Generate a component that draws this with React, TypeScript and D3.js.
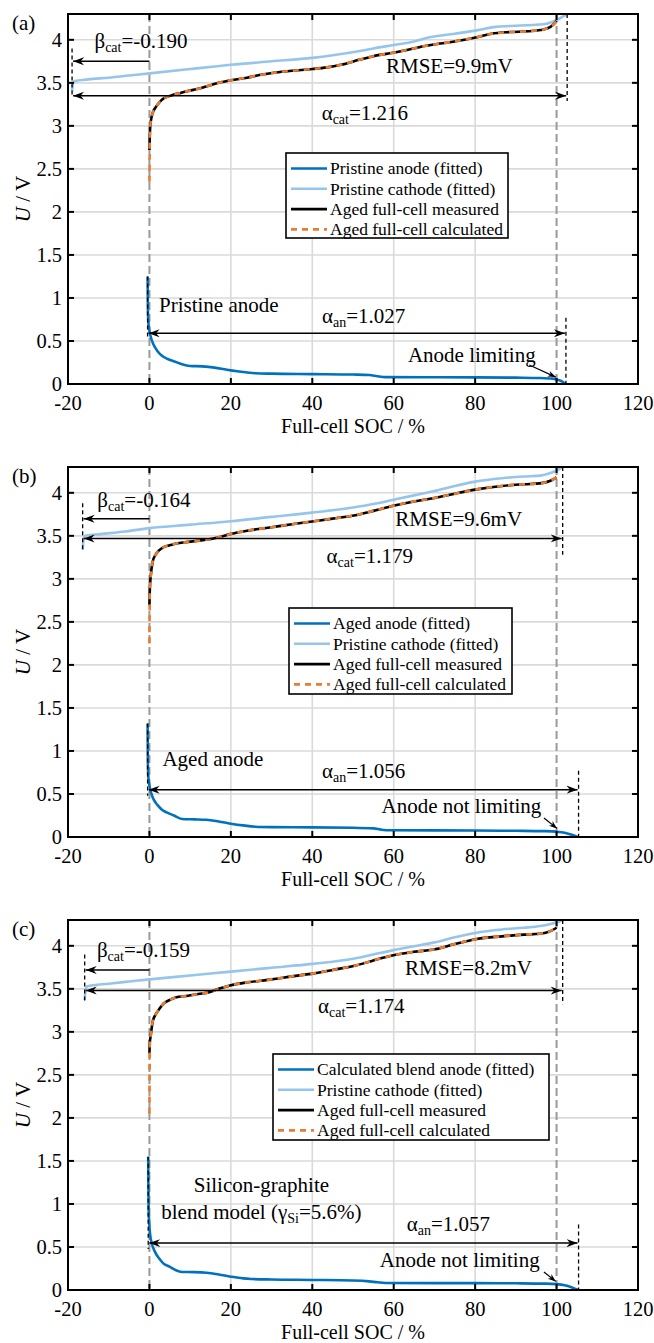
import React from 'react';
import * as d3 from 'd3';

const W = 654;
const H = 1343;

const xTicks = [-20, 0, 20, 40, 60, 80, 100, 120];
const yTicks = [0, 0.5, 1, 1.5, 2, 2.5, 3, 3.5, 4];
const yTickLabels = ['0', '0.5', '1', '1.5', '2', '2.5', '3', '3.5', '4'];

// ---- panel (a) ----
const anodeA = [[-0.45, 1.25], [-0.4, 0.95], [-0.3, 0.75], [0, 0.62], [0.5, 0.52], [1, 0.46], [2, 0.38], [3, 0.33], [4.5, 0.29], [6, 0.265], [8, 0.23], [10, 0.21], [13, 0.205], [16, 0.19], [19, 0.165], [22, 0.145], [26, 0.125], [30, 0.12], [40, 0.115], [50, 0.11], [54, 0.105], [56, 0.09], [58, 0.08], [70, 0.078], [80, 0.077], [90, 0.074], [96, 0.07], [99, 0.062], [100.5, 0.045], [101.5, 0.025], [102.2, 0.0]];
const cathodeA = [[-19, 3.40], [-18.8, 3.48], [-18.4, 3.52], [-15, 3.54], [-10, 3.56], [-5, 3.585], [0, 3.61], [10, 3.66], [20, 3.71], [30, 3.75], [40, 3.79], [45, 3.82], [51.7, 3.87], [55, 3.9], [60, 3.94], [65, 3.98], [68, 4.02], [75, 4.07], [80.4, 4.11], [85, 4.15], [88.6, 4.16], [93, 4.17], [96.8, 4.18], [99, 4.21], [100.5, 4.24], [101.5, 4.27], [102.6, 4.3]];
const measA = [[0, 2.72], [0.1, 2.9], [0.2, 3.0], [0.4, 3.07], [0.8, 3.15], [1.6, 3.22], [2.4, 3.27], [3.2, 3.31], [4.5, 3.34], [5.7, 3.36], [7.5, 3.38], [9, 3.40], [12, 3.43], [14.8, 3.47], [17, 3.50], [20, 3.53], [24, 3.56], [27, 3.59], [31, 3.62], [35, 3.64], [40, 3.66], [43.6, 3.68], [47, 3.71], [51.7, 3.77], [55, 3.81], [59.9, 3.85], [64, 3.89], [68, 3.93], [72, 3.96], [76, 3.99], [80.4, 4.03], [84, 4.07], [88.6, 4.09], [93, 4.10], [96.8, 4.12], [98.5, 4.15], [99.5, 4.19], [100, 4.22]];
const calcA = [[0, 2.35], [0.05, 2.62], ...measA.slice(1)];

// ---- panel (b) ----
const anodeB = [[-0.45, 1.32], [-0.4, 0.95], [-0.3, 0.72], [0, 0.6], [0.5, 0.5], [1, 0.44], [2, 0.37], [3, 0.32], [4.5, 0.28], [6, 0.25], [8, 0.21], [11, 0.205], [14, 0.2], [17, 0.18], [20, 0.155], [23, 0.135], [26, 0.12], [30, 0.115], [40, 0.112], [50, 0.108], [55, 0.1], [57, 0.085], [59, 0.078], [70, 0.077], [80, 0.075], [90, 0.072], [97, 0.068], [100, 0.062], [102, 0.05], [103.5, 0.03], [104.6, 0.012], [105.2, 0.0]];
const cathodeB = [[-16.4, 3.34], [-16.2, 3.45], [-15.8, 3.50], [-12, 3.52], [-6, 3.55], [0, 3.59], [10, 3.63], [20, 3.67], [30, 3.72], [40, 3.77], [50, 3.83], [55, 3.87], [60, 3.92], [65, 3.97], [70, 4.02], [75, 4.08], [80, 4.13], [86.6, 4.17], [92, 4.19], [96, 4.20], [98.5, 4.23], [100.5, 4.27], [101.5, 4.3]];
const measB = [[0, 2.7], [0.1, 2.88], [0.3, 3.02], [0.8, 3.2], [1.5, 3.28], [2.35, 3.33], [3.5, 3.37], [5, 3.39], [6.5, 3.41], [9.5, 3.43], [13, 3.45], [15.7, 3.47], [17.5, 3.49], [19.8, 3.52], [24, 3.56], [30, 3.60], [35, 3.635], [40.4, 3.67], [45, 3.70], [50.6, 3.74], [55, 3.79], [59.9, 3.85], [65, 3.90], [70, 3.94], [75, 3.99], [80.4, 4.04], [86.6, 4.08], [92, 4.10], [95.9, 4.11], [98.5, 4.14], [100, 4.18]];
const calcB = [[0, 2.25], [0.05, 2.6], ...measB.slice(1)];

// ---- panel (c) ----
const anodeC = [[-0.3, 1.55], [-0.25, 1.2], [-0.15, 0.87], [0.3, 0.6], [1.4, 0.44], [2.5, 0.36], [3.4, 0.31], [5, 0.27], [6.5, 0.23], [8, 0.21], [11, 0.208], [14, 0.2], [17, 0.18], [20, 0.155], [23, 0.135], [25, 0.128], [30, 0.122], [40, 0.117], [50, 0.11], [54, 0.1], [56, 0.09], [58, 0.082], [70, 0.08], [80, 0.08], [90, 0.078], [97, 0.074], [100, 0.068], [102, 0.055], [103.5, 0.035], [104.7, 0.012], [105.4, 0.0]];
const cathodeC = [[-15.9, 3.37], [-15.7, 3.48], [-15.3, 3.53], [-10, 3.56], [-5, 3.585], [0, 3.61], [10, 3.655], [20, 3.70], [30, 3.745], [40, 3.79], [50, 3.85], [55, 3.9], [60, 3.95], [65, 3.995], [70, 4.04], [75, 4.10], [80, 4.15], [86.6, 4.19], [92, 4.21], [96, 4.23], [99, 4.26], [100.5, 4.28], [101.5, 4.3]];
const measC = [[0, 2.75], [0.1, 2.88], [0.3, 2.95], [0.8, 3.12], [1.5, 3.2], [2.35, 3.26], [3.5, 3.33], [5, 3.37], [6.4, 3.40], [9.5, 3.42], [12, 3.44], [14.7, 3.46], [17, 3.5], [19.8, 3.54], [24, 3.575], [30.1, 3.61], [35, 3.645], [40.4, 3.68], [45, 3.72], [50.6, 3.77], [55, 3.83], [59.9, 3.89], [65, 3.93], [70.1, 3.96], [75, 4.02], [80.4, 4.08], [86.6, 4.11], [92, 4.13], [95.9, 4.14], [98.5, 4.17], [100, 4.21]];
const calcC = [[0, 2.05], [0.05, 2.55], ...measC.slice(1)];

const legendA = ['Pristine anode (fitted)', 'Pristine cathode (fitted)', 'Aged full-cell measured', 'Aged full-cell calculated'];
const legendB = ['Aged anode (fitted)', 'Pristine cathode (fitted)', 'Aged full-cell measured', 'Aged full-cell calculated'];
const legendC = ['Calculated blend anode (fitted)', 'Pristine cathode (fitted)', 'Aged full-cell measured', 'Aged full-cell calculated'];

const panels = [
  {
    label: '(a)', top: 14,
    anode: anodeA, cathode: cathodeA, meas: measA, calc: calcA, legend: legendA,
    legendBox: { x: 218, y: 139, w: 222, h: 85 },
    beta: -19.0, betaY: 3.75, betaText: { x: -13.5, y: 3.90, v: '=-0.190' }, betaDash: [3.90, 3.34],
    catEnd: 102.6, catY: 3.35, catText: { x: 42.3, y: 3.07, v: '=1.216' }, catDashBottom: 3.29,
    rmse: { x: 58.1, y: 3.61, v: 'RMSE=9.9mV' },
    anStart: -0.45, anTop: 1.25,
    anLabel: [{ t: 'Pristine anode', x: 2.35, y: 0.84 }], anLabelAnchor: 'start',
    anEnd: 102.3, anY: 0.59, anText: { x: 42.4, y: 0.71, v: '=1.027' }, anDashTop: 0.77,
    lim: { t: 'Anode limiting', x: 63.5, y: 0.26, ax0: 93.3, ay0: 0.22, ax1: 99.8, ay1: 0.08 },
  },
  {
    label: '(b)', top: 467,
    anode: anodeB, cathode: cathodeB, meas: measB, calc: calcB, legend: legendB,
    legendBox: { x: 221, y: 141, w: 223, h: 86 },
    beta: -16.4, betaY: 3.70, betaText: { x: -12.8, y: 3.84, v: '=-0.164' }, betaDash: [3.88, 3.34],
    catEnd: 101.5, catY: 3.47, catText: { x: 43.5, y: 3.19, v: '=1.179' }, catDashBottom: 3.28,
    rmse: { x: 60.4, y: 3.62, v: 'RMSE=9.6mV' },
    anStart: -0.45, anTop: 1.32,
    anLabel: [{ t: 'Aged anode', x: 3.2, y: 0.82 }], anLabelAnchor: 'start',
    anEnd: 105.4, anY: 0.55, anText: { x: 42.4, y: 0.69, v: '=1.056' }, anDashTop: 0.77,
    lim: { t: 'Anode not limiting', x: 57.0, y: 0.28, ax0: 96.9, ay0: 0.22, ax1: 100.1, ay1: 0.10 },
  },
  {
    label: '(c)', top: 920,
    anode: anodeC, cathode: cathodeC, meas: measC, calc: calcC, legend: legendC,
    legendBox: { x: 205, y: 134, w: 276, h: 86 },
    beta: -15.9, betaY: 3.72, betaText: { x: -12.9, y: 3.87, v: '=-0.159' }, betaDash: [3.90, 3.35],
    catEnd: 101.5, catY: 3.48, catText: { x: 41.4, y: 3.22, v: '=1.174' }, catDashBottom: 3.32,
    rmse: { x: 62.8, y: 3.66, v: 'RMSE=8.2mV' },
    anStart: -0.3, anTop: 1.55,
    anLabel: [{ t: 'Silicon-graphite', x: 27.5, y: 1.14 }, { t: 'blend', x: 27.5, y: 0.83 }], anLabelAnchor: 'middle',
    anEnd: 105.4, anY: 0.545, anText: { x: 63.2, y: 0.69, v: '=1.057' }, anDashTop: 0.76,
    lim: { t: 'Anode not limiting', x: 56.6, y: 0.265, ax0: 96.9, ay0: 0.21, ax1: 99.8, ay1: 0.10 },
  },
];

const LEFT = 68;
const RIGHT = 638;
const PH = 370;
const FONT = "'Liberation Serif', 'Times New Roman', serif";
const C_AN = '#0072BD';
const C_CAT = '#96C5EB';
const C_OR = '#EA7B30';
const FS = 21;
const FT = 20.5;
const FX = 20;
const SUB = 14;

function Panel({ p, idx }: { p: any; idx: number }) {
  const top = p.top;
  const bottom = top + PH;
  const x = d3.scaleLinear().domain([-20, 120]).range([LEFT, RIGHT]);
  const y = d3.scaleLinear().domain([0, 4.3]).range([bottom, top]);
  const line = d3.line<number[]>().x((d) => x(d[0])).y((d) => y(d[1])).curve(d3.curveMonotoneX);
  const clipId = `clip${idx}`;
  const lb = p.legendBox;
  const legendColors = [C_AN, C_CAT, '#000', C_OR];

  return (
    <g fontFamily={FONT}>
      <defs>
        <clipPath id={clipId}>
          <rect x={LEFT} y={top} width={RIGHT - LEFT} height={PH} />
        </clipPath>
      </defs>
      {/* grid */}
      {xTicks.filter((t) => t !== 0 && t !== 100).map((t) => (
        <line key={'gx' + t} x1={x(t)} x2={x(t)} y1={top} y2={bottom} stroke="#dadada" strokeWidth={1.6} />
      ))}
      {yTicks.map((t) => (
        <line key={'gy' + t} x1={LEFT} x2={RIGHT} y1={y(t)} y2={y(t)} stroke="#dadada" strokeWidth={1.6} />
      ))}
      {[0, 100].map((t) => (
        <line key={'gd' + t} x1={x(t)} x2={x(t)} y1={top} y2={bottom} stroke="#9a9a9a" strokeWidth={2} strokeDasharray="8 4" />
      ))}

      {/* curves */}
      <g clipPath={`url(#${clipId})`}>
        <path d={line(p.anode) || ''} fill="none" stroke={C_AN} strokeWidth={2.6} />
        <path d={line(p.cathode) || ''} fill="none" stroke={C_CAT} strokeWidth={2.6} />
        <path d={line(p.meas) || ''} fill="none" stroke="#000" strokeWidth={2.6} />
        <path d={line(p.calc) || ''} fill="none" stroke={C_OR} strokeWidth={2.6} strokeDasharray="6 5" />
      </g>

      {/* box + ticks */}
      <rect x={LEFT} y={top} width={RIGHT - LEFT} height={PH} fill="none" stroke="#000" strokeWidth={2} />
      {xTicks.map((t) => (
        <g key={'tx' + t}>
          <line x1={x(t)} x2={x(t)} y1={bottom} y2={bottom - 6} stroke="#000" strokeWidth={2} />
          <line x1={x(t)} x2={x(t)} y1={top} y2={top + 6} stroke="#000" strokeWidth={2} />
          <text x={x(t)} y={bottom + 26} fontSize={FT} textAnchor="middle">{String(t)}</text>
        </g>
      ))}
      {yTicks.map((t, i) => (
        <g key={'ty' + t}>
          <line x1={LEFT} x2={LEFT + 6} y1={y(t)} y2={y(t)} stroke="#000" strokeWidth={2} />
          <line x1={RIGHT} x2={RIGHT - 6} y1={y(t)} y2={y(t)} stroke="#000" strokeWidth={2} />
          <text x={LEFT - 6} y={y(t)} dy="0.33em" fontSize={FT} textAnchor="end">{yTickLabels[i]}</text>
        </g>
      ))}
      <text x={(LEFT + RIGHT) / 2} y={bottom + 48.5} fontSize={FX} textAnchor="middle">Full-cell SOC / %</text>
      <text transform={`translate(30,${(top + bottom) / 2}) rotate(-90)`} fontSize={FS} textAnchor="middle">
        <tspan fontStyle="italic">U</tspan><tspan> / V</tspan>
      </text>
      <text x={12} y={top + 16} fontSize={FS}>{p.label}</text>

      {/* cathode annotations */}
      <line x1={x(p.beta)} x2={x(p.beta)} y1={y(p.betaDash[0])} y2={y(p.betaDash[1])} stroke="#000" strokeWidth={1.3} strokeDasharray="4 3" />
      <line x1={x(p.catEnd)} x2={x(p.catEnd)} y1={top} y2={y(p.catDashBottom)} stroke="#000" strokeWidth={1.3} strokeDasharray="4 3" />
      <line x1={x(0)} x2={x(p.beta) + 1} y1={y(p.betaY)} y2={y(p.betaY)} stroke="#000" strokeWidth={1.5} markerEnd="url(#ah)" />
      <line x1={x(p.beta) + 1} x2={x(p.catEnd) - 1} y1={y(p.catY)} y2={y(p.catY)} stroke="#000" strokeWidth={1.5} markerStart="url(#ah)" markerEnd="url(#ah)" />
      <text x={x(p.betaText.x)} y={y(p.betaText.y)} fontSize={FS}>
        <tspan>β</tspan><tspan fontSize={SUB} dy={4}>cat</tspan><tspan dy={-4}>{p.betaText.v}</tspan>
      </text>
      <text x={x(p.catText.x)} y={y(p.catText.y)} fontSize={FS}>
        <tspan>α</tspan><tspan fontSize={SUB} dy={4}>cat</tspan><tspan dy={-4}>{p.catText.v}</tspan>
      </text>
      <text x={x(p.rmse.x)} y={y(p.rmse.y)} fontSize={FS}>{p.rmse.v}</text>

      {/* anode annotations */}
      <line x1={x(p.anStart)} x2={x(p.anStart)} y1={y(p.anTop)} y2={y(p.anY) + 6} stroke="#000" strokeWidth={1.3} strokeDasharray="4 3" />
      <line x1={x(p.anEnd)} x2={x(p.anEnd)} y1={y(p.anDashTop)} y2={bottom} stroke="#000" strokeWidth={1.3} strokeDasharray="4 3" />
      <line x1={x(p.anStart) + 1} x2={x(p.anEnd) - 1} y1={y(p.anY)} y2={y(p.anY)} stroke="#000" strokeWidth={1.5} markerStart="url(#ah)" markerEnd="url(#ah)" />
      <text x={x(p.anText.x)} y={y(p.anText.y)} fontSize={FS}>
        <tspan>α</tspan><tspan fontSize={SUB} dy={4}>an</tspan><tspan dy={-4}>{p.anText.v}</tspan>
      </text>
      {p.anLabel.map((l: any, i: number) => (
        <text key={'al' + i} x={x(l.x)} y={y(l.y)} fontSize={FS} textAnchor={p.anLabelAnchor}>
          {l.t === 'blend' ? (
            <>
              <tspan>blend model (γ</tspan><tspan fontSize={SUB} dy={4}>Si</tspan><tspan dy={-4}>=5.6%)</tspan>
            </>
          ) : l.t}
        </text>
      ))}
      <text x={x(p.lim.x)} y={y(p.lim.y)} fontSize={FS}>{p.lim.t}</text>
      <line x1={x(p.lim.ax0)} y1={y(p.lim.ay0)} x2={x(p.lim.ax1)} y2={y(p.lim.ay1)} stroke="#000" strokeWidth={1.2} markerEnd="url(#ahs)" />

      {/* legend */}
      <rect x={LEFT + lb.x} y={top + lb.y} width={lb.w} height={lb.h} fill="#fff" stroke="#000" strokeWidth={1.6} />
      {p.legend.map((name: string, i: number) => {
        const cy = top + lb.y + 15.5 + i * 20.3;
        return (
          <g key={'lg' + i}>
            <line x1={LEFT + lb.x + 5} x2={LEFT + lb.x + 41} y1={cy} y2={cy} stroke={legendColors[i]} strokeWidth={2.6} strokeDasharray={i === 3 ? '6 5' : undefined} />
            <text x={LEFT + lb.x + 44} y={cy} dy="0.33em" fontSize={17.5}>{name}</text>
          </g>
        );
      })}
    </g>
  );
}

export default function App() {
  return (
    <svg width={W} height={H} style={{ position: 'absolute', left: 0, top: 0, background: '#fff' }} xmlns="http://www.w3.org/2000/svg">
      <defs>
        <marker id="ah" viewBox="-11 -5 12 10" refX={0} refY={0} markerWidth={12} markerHeight={10} markerUnits="userSpaceOnUse" orient="auto-start-reverse">
          <path d="M0,0 L-11,-4 L-7.5,0 L-11,4 Z" fill="#000" />
        </marker>
        <marker id="ahs" viewBox="-8 -4 9 8" refX={0} refY={0} markerWidth={9} markerHeight={8} markerUnits="userSpaceOnUse" orient="auto-start-reverse">
          <path d="M0,0 L-8,-3 L-5.5,0 L-8,3 Z" fill="#000" />
        </marker>
      </defs>
      <rect x={0} y={0} width={W} height={H} fill="#fff" />
      {panels.map((p, i) => (
        <Panel key={i} p={p} idx={i} />
      ))}
    </svg>
  );
}
